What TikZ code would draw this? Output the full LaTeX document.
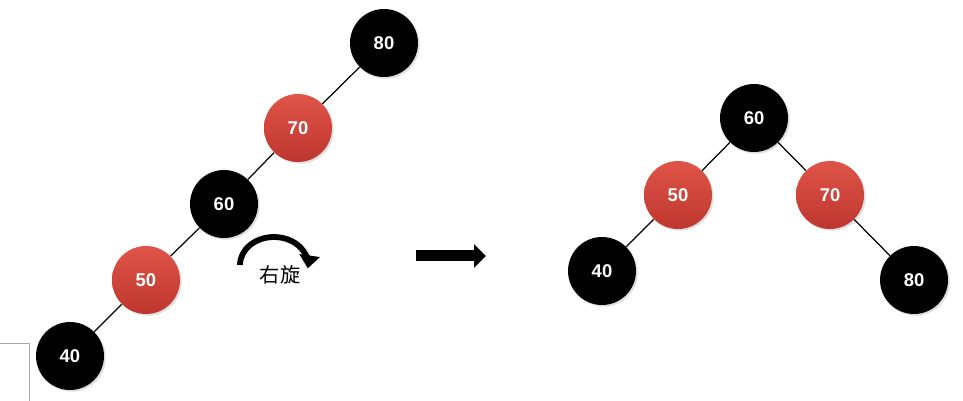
\documentclass[tikz,border=0pt]{standalone}
\usepackage{fontspec}
\setmainfont{Liberation Sans}
\newfontfamily\cjk{Noto Sans CJK SC}
\usepackage{tikz}
\usetikzlibrary{arrows.meta,shadows}
\definecolor{redtop}{RGB}{224,84,72}
\definecolor{redbottom}{RGB}{190,54,46}
\definecolor{framegray}{RGB}{170,170,170}

\begin{document}
\begin{tikzpicture}[x=0.02cm,y=-0.02cm,
  every node/.style={font=\fontsize{10.5}{12}\selectfont\bfseries,text=white},
  blacknode/.style={circle,fill=black,minimum size=1.36cm,inner sep=0pt,
    drop shadow={opacity=0.25,shadow xshift=1pt,shadow yshift=-1pt}},
  rednode/.style={circle,top color=redtop,bottom color=redbottom,minimum size=1.36cm,inner sep=0pt,
    drop shadow={opacity=0.25,shadow xshift=1pt,shadow yshift=-1pt}},
  edge/.style={black,line width=0.7pt}]
  \useasboundingbox (0,0) rectangle (963,401);
  % left tree before rotation
  \node[blacknode] (l80) at (384,43) {80};
  \node[rednode] (l70) at (298,128) {70};
  \node[blacknode] (l60) at (224,204) {60};
  \node[rednode] (l50) at (146,280) {50};
  \node[blacknode] (l40) at (70,356) {40};
  % right tree after rotation
  \node[blacknode] (r60) at (754,118) {60};
  \node[rednode] (r50) at (678,195) {50};
  \node[rednode] (r70) at (830,195) {70};
  \node[blacknode] (r40) at (602,271) {40};
  \node[blacknode] (r80) at (914,280) {80};
  \draw[edge] (l80) -- (l70);
  \draw[edge] (l70) -- (l60);
  \draw[edge] (l60) -- (l50);
  \draw[edge] (l50) -- (l40);
  \draw[edge] (r60) -- (r50);
  \draw[edge] (r60) -- (r70);
  \draw[edge] (r50) -- (r40);
  \draw[edge] (r70) -- (r80);
  % rotation mark
  \coordinate (rotstart) at (240,265);
  \draw[line width=3.3pt,-{Triangle[length=0.26cm,width=0.4cm]}] (rotstart) arc[start angle=180,end angle=367,x radius=34,y radius=28];
  \node[text=black,font=\cjk\fontsize{11.5}{13}\selectfont] (rotlabel) at (280,275) {右旋};
  % big arrow
  \coordinate (arrowfrom) at (416,256);
  \coordinate (arrowto) at (486,256);
  \draw[line width=0.22cm,-{Triangle[length=0.24cm,width=0.46cm]}] (arrowfrom) -- (arrowto);
  % frame corner
  \draw[framegray,line width=0.5pt] (0,343) -- (29,343) -- (29,401);
\end{tikzpicture}
\end{document}
